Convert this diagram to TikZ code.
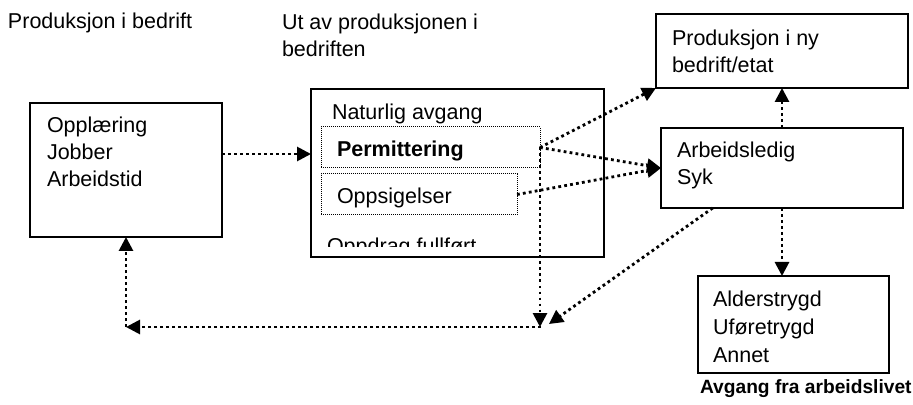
\documentclass[tikz,border=0pt]{standalone}
\usepackage{fontspec}
\setmainfont{Liberation Sans}
\usetikzlibrary{arrows.meta}

\begin{document}
\begin{tikzpicture}[x=0.5pt,y=-0.5pt,
  every node/.style={inner sep=0pt,outer sep=0pt,font=\fontsize{10.75pt}{13.5pt}\selectfont},
  txt/.style={anchor=base west,align=left},
  box/.style={draw,line width=1pt,anchor=north west},
  dotbox/.style={draw,line width=0.5pt,dash pattern=on 0.5pt off 0.5pt,anchor=north west},
  flow/.style={line width=1.4pt,dash pattern=on 1.4pt off 1.6pt,-{Triangle[length=7pt,width=7pt]}}]
  \useasboundingbox (0,0) rectangle (913,405);

  \node[txt] (head1) at (8,29) {Produksjon i bedrift};
  \node[txt] (head2) at (282,57) {Ut av produksjonen i\\bedriften};

  \node[box,minimum width=96pt,minimum height=67pt] (job) at (30,103) {};
  \node[txt] (jobtxt) at (47,187) {Oppl\ae ring\\Jobber\\Arbeidstid};

  \node[box,minimum width=146.5pt,minimum height=84pt] (ut) at (311,89) {};
  \node[txt] (avgang) at (332,120) {Naturlig avgang};
  \node[dotbox,minimum width=109.5pt,minimum height=20.5pt] (perm) at (321,127) {};
  \node[txt] (permtxt) at (337,157) {\bfseries Permittering};
  \node[dotbox,minimum width=98pt,minimum height=20.5pt] (opps) at (321,174) {};
  \node[txt] (oppstxt) at (337,204) {Oppsigelser};
  \begin{scope}
    \clip (311,89) rectangle (604,247);
    \node[txt] (oppdrag) at (327,254) {Oppdrag fullf\o rt};
  \end{scope}

  \node[box,minimum width=126pt,minimum height=37pt] (ny) at (656,14) {};
  \node[txt] (nytxt) at (672,73) {Produksjon i ny\\bedrift/etat};

  \node[box,minimum width=121pt,minimum height=40pt] (ledig) at (661,128) {};
  \node[txt] (ledigtxt) at (677,185) {Arbeidsledig\\Syk};

  \node[box,minimum width=95.5pt,minimum height=48.5pt] (trygd) at (698,276) {};
  \node[txt,font=\fontsize{10.75pt}{14pt}\selectfont] (trygdtxt) at (713,362) {Alderstrygd\\Uf\o retrygd\\Annet};
  \node[txt,font=\fontsize{9.6pt}{12pt}\selectfont] (arbliv) at (700,393) {\bfseries Avgang fra arbeidslivet};

  \coordinate (hub) at (541,327);
  \coordinate (hub2) at (549,324);
  \coordinate (corner) at (job.south |- hub);

  \draw[flow] (job.east |- 0,154) -- (ut.west |- 0,154);
  \draw[flow] (perm.east) -- (ny.south west);
  \draw[flow] (perm.east) -- (ledig.west);
  \draw[flow] (opps.east) -- (ledig.west);
  \draw[flow] (perm.east) -- (perm.east |- hub);
  \draw[flow] (ledig.210) -- (hub2);
  \draw[flow] (hub) -- (corner);
  \draw[flow] (corner) -- (job.south);
  \draw[flow] (ledig.north) -- (ny.south);
  \draw[flow] (ledig.south) -- (ledig.south |- trygd.north);
\end{tikzpicture}
\end{document}
